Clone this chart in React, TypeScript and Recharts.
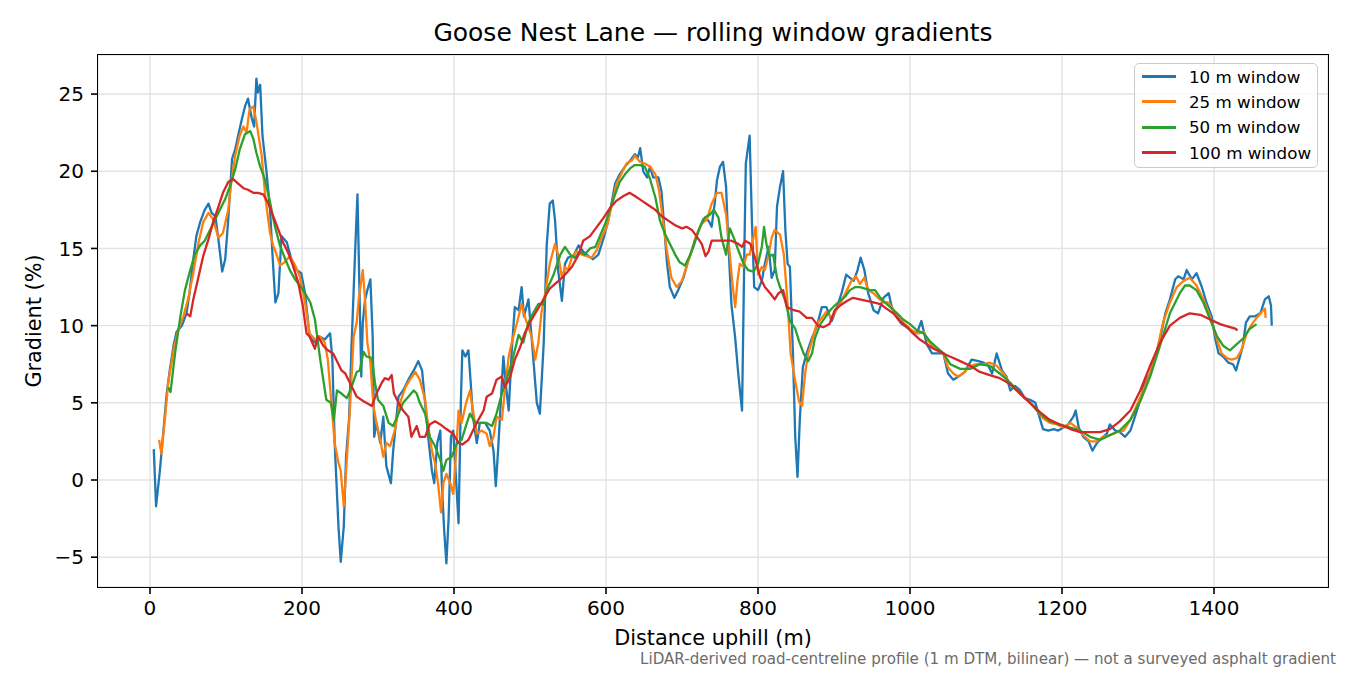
import React from 'react';
import { LineChart, Line, XAxis, YAxis, CartesianGrid } from 'recharts';

// [distance uphill (m), gradient (%)]
const win10: [number, number][] = [
  [5, 2.0], [8, -1.7], [13, 0.6], [22, 5.6], [26, 7.1], [31, 8.7], [35, 9.6], [42, 10.0], [48, 10.8], [52, 12.1],
  [57, 14.3], [61, 15.8], [66, 16.7], [72, 17.5], [77, 17.9], [81, 17.3], [86, 17.1], [90, 15.6], [95, 13.5], [99, 14.3],
  [103, 16.9], [108, 20.8], [112, 21.4], [116, 22.3], [121, 23.4], [125, 24.2], [129, 24.7], [134, 23.4], [137, 22.9], [140, 26.0],
  [142, 25.1], [145, 25.6], [148, 22.3], [153, 20.1], [158, 17.5], [162, 13.9], [165, 11.5], [169, 12.1], [173, 15.8], [180, 15.4],
  [186, 14.3], [193, 13.6], [199, 13.4], [204, 12.1], [210, 9.3], [217, 8.9], [223, 9.3], [230, 9.1], [237, 9.5], [240, 7.8],
  [243, 2.4], [248, -3.0], [251, -5.3], [255, -3.0], [258, 1.5], [262, 4.0], [265, 8.4], [270, 14.9], [273, 18.5], [275, 13.8],
  [278, 6.7], [280, 10.2], [283, 11.7], [286, 12.3], [290, 13.0], [293, 9.3], [295, 2.8], [298, 3.7], [303, 2.4], [307, 4.1],
  [311, 0.9], [317, -0.2], [320, 1.9], [327, 5.4], [333, 5.8], [340, 6.5], [347, 7.1], [353, 7.7], [358, 7.1], [362, 5.0],
  [366, 2.8], [371, 0.6], [374, -0.2], [378, 2.4], [382, 3.2], [384, -0.2], [387, -3.2], [390, -5.4], [393, -2.4], [396, 2.8],
  [399, 3.2], [403, -0.2], [406, -2.8], [409, 5.0], [411, 8.4], [415, 8.0], [419, 8.4], [422, 6.3], [425, 4.1], [430, 2.4],
  [434, 3.7], [441, 3.7], [447, 3.2], [452, 1.9], [455, -0.4], [458, 1.9], [463, 6.3], [465, 8.0], [468, 6.3], [472, 4.5],
  [476, 8.4], [480, 11.2], [485, 11.0], [489, 12.5], [492, 10.6], [498, 11.7], [502, 9.3], [509, 5.0], [513, 4.3], [518, 8.8],
  [522, 15.2], [526, 17.9], [530, 18.1], [533, 16.8], [537, 13.6], [542, 11.6], [546, 14.0], [550, 14.4], [557, 14.5], [564, 15.2],
  [570, 14.8], [577, 14.5], [583, 14.3], [590, 14.6], [597, 15.7], [603, 16.8], [608, 18.1], [612, 19.2], [618, 19.8], [625, 20.3],
  [632, 20.7], [638, 21.1], [642, 20.9], [645, 21.5], [649, 20.0], [654, 19.6], [658, 20.3], [662, 19.6], [669, 19.6], [673, 18.7],
  [676, 16.8], [680, 14.2], [684, 12.5], [690, 11.8], [695, 12.3], [702, 13.1], [708, 14.2], [715, 15.1], [722, 16.2], [728, 16.9],
  [735, 16.8], [739, 16.4], [743, 17.9], [746, 19.4], [750, 20.3], [754, 20.6], [758, 19.0], [761, 15.3], [765, 11.4], [770, 9.2],
  [774, 6.9], [779, 4.5], [782, 14.6], [784, 20.5], [789, 22.3], [792, 16.8], [795, 12.5], [800, 12.3], [805, 12.9], [809, 14.0],
  [814, 15.1], [818, 13.1], [822, 13.6], [825, 17.7], [829, 19.0], [833, 20.0], [836, 16.2], [839, 14.0], [842, 13.8], [846, 8.2],
  [849, 2.8], [852, 0.2], [855, 3.9], [859, 7.3], [864, 8.2], [871, 9.2], [877, 9.9], [884, 11.2], [890, 11.2], [897, 10.3],
  [904, 11.2], [910, 12.1], [916, 13.3], [921, 13.1], [926, 12.9], [931, 13.6], [935, 14.4], [940, 13.6], [945, 12.1], [952, 11.0],
  [958, 10.8], [965, 11.8], [972, 12.1], [976, 11.2], [983, 10.5], [989, 10.1], [996, 9.9], [1002, 9.7], [1009, 9.5], [1015, 10.3],
  [1022, 8.8], [1029, 8.2], [1035, 8.2], [1044, 8.2], [1050, 6.9], [1057, 6.5], [1064, 6.7], [1072, 7.0], [1081, 7.8], [1090, 7.7],
  [1097, 7.6], [1103, 7.4], [1108, 6.9], [1114, 8.2], [1121, 7.1], [1127, 6.7], [1132, 5.8], [1138, 6.1], [1145, 5.8], [1151, 5.3],
  [1158, 5.2], [1165, 5.0], [1169, 4.3], [1175, 3.3], [1182, 3.2], [1189, 3.3], [1195, 3.2], [1202, 3.4], [1208, 3.6], [1215, 4.1],
  [1218, 4.5], [1222, 3.4], [1228, 2.8], [1235, 2.5], [1240, 1.9], [1246, 2.4], [1252, 2.7], [1259, 3.0], [1263, 3.6], [1270, 3.2],
  [1276, 3.1], [1283, 2.8], [1290, 3.2], [1296, 4.1], [1303, 5.2], [1309, 6.3], [1316, 6.9], [1322, 7.8], [1329, 9.1], [1336, 10.8],
  [1342, 11.7], [1349, 13.0], [1353, 13.2], [1360, 13.0], [1364, 13.6], [1371, 13.0], [1377, 13.4], [1384, 12.5], [1390, 11.5], [1397, 10.6],
  [1401, 9.3], [1406, 8.2], [1412, 8.0], [1419, 7.6], [1425, 7.5], [1429, 7.1], [1433, 7.8], [1438, 8.7], [1442, 10.2], [1447, 10.6],
  [1454, 10.6], [1461, 10.8], [1467, 11.7], [1472, 11.9], [1475, 11.3], [1476, 10.0],
];

const win25: [number, number][] = [
  [12, 2.6], [15, 1.7], [20, 4.1], [24, 6.3], [31, 8.4], [37, 9.7], [44, 10.6], [50, 11.7], [57, 13.4], [64, 15.4],
  [70, 16.7], [77, 17.3], [83, 16.9], [90, 15.7], [96, 16.0], [103, 17.5], [107, 19.3], [112, 21.0], [118, 22.3], [123, 22.9],
  [127, 22.5], [131, 24.0], [136, 24.2], [140, 23.2], [147, 21.0], [152, 18.2], [158, 16.0], [162, 15.2], [166, 14.7], [171, 13.9],
  [177, 14.1], [184, 14.5], [191, 13.9], [197, 13.2], [204, 11.5], [210, 9.5], [217, 9.1], [223, 9.3], [230, 8.9], [234, 7.8],
  [239, 4.8], [243, 2.4], [248, 1.1], [251, 0.6], [255, -1.7], [259, 1.3], [263, 4.5], [268, 9.3], [272, 10.2], [275, 11.9],
  [280, 13.6], [283, 11.7], [286, 8.9], [290, 7.6], [294, 4.8], [298, 3.7], [303, 2.6], [307, 1.5], [311, 2.4], [316, 2.2],
  [322, 3.2], [329, 5.0], [336, 6.0], [342, 6.5], [349, 7.0], [355, 6.5], [362, 5.2], [366, 3.5], [371, 1.9], [375, 1.1],
  [379, -0.2], [383, -2.1], [386, -0.2], [390, 0.4], [395, -0.2], [399, -0.9], [403, 1.9], [406, 4.5], [410, 3.7], [416, 5.0],
  [421, 5.8], [425, 4.5], [430, 3.0], [436, 3.2], [443, 3.0], [447, 2.2], [452, 2.8], [456, 4.1], [463, 3.9], [467, 5.8],
  [472, 8.0], [476, 8.9], [483, 10.2], [489, 11.4], [493, 10.6], [498, 9.9], [502, 9.3], [507, 7.8], [511, 8.9], [515, 10.8],
  [520, 12.1], [526, 14.0], [533, 15.3], [537, 14.6], [542, 13.1], [546, 13.8], [550, 13.6], [555, 14.4], [561, 14.8], [568, 14.6],
  [575, 14.5], [581, 14.4], [588, 14.9], [594, 15.7], [601, 16.4], [608, 17.9], [614, 19.2], [621, 19.9], [627, 20.5], [634, 20.7],
  [638, 21.0], [645, 20.6], [651, 20.5], [658, 20.3], [665, 19.8], [670, 18.7], [675, 16.8], [680, 14.9], [686, 13.1], [693, 12.5],
  [700, 12.9], [706, 13.8], [713, 14.9], [719, 15.9], [726, 16.6], [733, 16.9], [739, 17.9], [746, 18.6], [752, 18.6], [758, 17.2],
  [762, 15.1], [766, 12.9], [770, 11.2], [773, 12.9], [776, 14.0], [781, 13.8], [785, 14.6], [789, 14.6], [794, 15.7], [797, 16.4],
  [800, 13.3], [805, 13.8], [809, 13.6], [814, 14.6], [818, 15.7], [822, 16.2], [829, 15.9], [834, 14.6], [839, 11.4], [843, 8.2],
  [849, 6.4], [854, 5.1], [858, 4.8], [862, 6.9], [866, 8.2], [871, 9.0], [877, 10.1], [884, 10.5], [890, 10.9], [897, 10.5],
  [904, 11.1], [910, 11.6], [917, 12.3], [923, 12.9], [929, 13.2], [934, 12.7], [940, 13.1], [945, 12.3], [952, 12.1], [958, 11.8],
  [965, 11.5], [972, 11.5], [978, 11.0], [985, 10.5], [991, 10.2], [998, 9.9], [1004, 9.6], [1011, 9.5], [1018, 9.6], [1024, 9.0],
  [1031, 8.6], [1037, 8.4], [1044, 8.2], [1050, 7.3], [1057, 6.9], [1063, 6.7], [1070, 6.9], [1079, 7.4], [1088, 7.5], [1097, 7.5],
  [1105, 7.6], [1114, 7.4], [1123, 6.9], [1132, 6.2], [1140, 5.8], [1149, 5.4], [1158, 5.0], [1167, 4.5], [1175, 4.0], [1184, 3.7],
  [1193, 3.6], [1202, 3.4], [1211, 3.7], [1219, 3.4], [1228, 2.9], [1237, 2.5], [1246, 2.5], [1254, 2.8], [1263, 2.9], [1272, 3.1],
  [1281, 3.2], [1290, 3.9], [1298, 4.8], [1307, 5.8], [1316, 6.9], [1325, 8.4], [1333, 10.2], [1342, 11.5], [1351, 12.5], [1360, 12.9],
  [1368, 13.1], [1377, 12.6], [1386, 11.7], [1395, 10.6], [1404, 9.1], [1410, 8.2], [1417, 7.9], [1423, 7.8], [1430, 7.9], [1436, 8.4],
  [1443, 9.5], [1450, 10.1], [1456, 10.5], [1463, 10.9], [1467, 11.1], [1468, 10.5],
];

const win50: [number, number][] = [
  [24, 6.0], [27, 5.7], [33, 8.2], [40, 10.6], [46, 12.3], [53, 13.6], [59, 14.6], [66, 15.2], [72, 15.5], [79, 16.2],
  [86, 16.9], [92, 17.5], [99, 18.2], [105, 19.0], [112, 20.1], [118, 21.4], [125, 22.4], [132, 22.6], [136, 22.1], [140, 21.2],
  [145, 20.3], [151, 19.5], [158, 18.0], [164, 16.5], [171, 15.2], [178, 14.3], [184, 13.6], [191, 13.0], [197, 12.6], [204, 12.1],
  [211, 11.5], [217, 10.4], [224, 7.8], [228, 6.5], [232, 5.2], [238, 5.0], [242, 3.9], [246, 5.8], [252, 5.6], [259, 5.3],
  [265, 6.0], [272, 7.0], [276, 7.1], [281, 8.3], [285, 8.0], [292, 7.9], [296, 6.3], [300, 5.2], [307, 4.8], [314, 3.7],
  [320, 3.5], [327, 4.3], [333, 5.0], [340, 5.4], [347, 5.8], [351, 5.6], [355, 5.0], [362, 4.3], [368, 2.8], [375, 2.2],
  [382, 1.3], [386, 0.6], [390, 1.3], [397, 1.5], [404, 2.4], [410, 2.6], [417, 3.7], [421, 4.3], [428, 3.7], [434, 3.7],
  [443, 3.7], [450, 3.5], [456, 4.3], [463, 5.6], [469, 6.5], [476, 7.6], [480, 8.4], [485, 9.4], [491, 8.9], [498, 10.2],
  [504, 10.8], [511, 11.4], [518, 11.4], [522, 12.3], [531, 13.3], [540, 14.6], [546, 15.1], [553, 14.6], [559, 14.4], [566, 14.8],
  [572, 14.6], [579, 15.0], [586, 15.1], [592, 15.8], [599, 16.6], [605, 17.5], [612, 18.5], [618, 19.3], [625, 19.8], [632, 20.2],
  [638, 20.4], [645, 20.4], [651, 20.3], [658, 19.5], [665, 18.3], [671, 16.8], [678, 15.9], [684, 15.3], [691, 14.6], [697, 14.1],
  [704, 13.9], [711, 14.6], [717, 15.5], [724, 16.4], [730, 17.0], [737, 17.2], [742, 17.5], [748, 17.0], [752, 15.7], [758, 14.6],
  [763, 16.3], [768, 15.7], [774, 14.9], [781, 14.0], [787, 13.6], [794, 13.5], [800, 14.0], [805, 15.1], [808, 16.4], [811, 15.3],
  [815, 14.5], [820, 14.6], [825, 13.1], [829, 12.5], [836, 11.6], [842, 10.3], [849, 9.8], [854, 9.0], [860, 8.2], [866, 7.7],
  [871, 8.2], [875, 9.2], [882, 10.1], [888, 10.5], [895, 11.0], [901, 11.3], [908, 11.6], [915, 11.9], [921, 12.3], [928, 12.5],
  [934, 12.5], [941, 12.4], [947, 12.3], [954, 12.3], [961, 11.8], [967, 11.5], [974, 11.2], [983, 10.8], [991, 10.4], [1000, 10.1],
  [1009, 9.7], [1018, 9.5], [1026, 9.0], [1035, 8.6], [1044, 8.2], [1053, 7.5], [1066, 7.2], [1079, 7.2], [1092, 7.5], [1105, 7.4],
  [1118, 6.9], [1132, 6.3], [1145, 5.6], [1158, 5.0], [1171, 4.3], [1184, 3.8], [1197, 3.6], [1211, 3.4], [1224, 3.2], [1237, 2.8],
  [1250, 2.6], [1263, 2.9], [1276, 3.2], [1290, 3.9], [1303, 5.1], [1316, 6.7], [1329, 8.7], [1342, 10.8], [1355, 12.1], [1362, 12.6],
  [1368, 12.6], [1377, 12.3], [1386, 11.5], [1395, 10.4], [1404, 9.3], [1412, 8.7], [1421, 8.4], [1430, 8.8], [1439, 9.2], [1447, 9.8],
  [1456, 10.1],
];

const win100: [number, number][] = [
  [48, 10.8], [53, 10.6], [57, 11.7], [64, 13.2], [70, 14.5], [77, 15.6], [83, 16.7], [90, 17.7], [96, 18.6], [103, 19.3],
  [109, 19.5], [116, 19.2], [123, 18.9], [129, 18.8], [136, 18.6], [142, 18.6], [149, 18.5], [155, 18.0], [162, 17.1], [169, 16.2],
  [175, 15.4], [182, 14.7], [188, 13.9], [195, 12.8], [201, 11.3], [206, 9.5], [210, 9.3], [217, 8.5], [221, 9.3], [228, 8.7],
  [234, 8.4], [241, 8.2], [248, 7.5], [252, 7.1], [257, 6.9], [263, 6.3], [272, 5.4], [281, 5.1], [292, 4.8], [298, 5.6],
  [305, 6.3], [309, 6.6], [314, 6.5], [318, 6.8], [321, 5.6], [327, 5.0], [333, 4.5], [340, 4.1], [344, 2.8], [351, 3.5],
  [355, 2.8], [362, 2.8], [368, 3.6], [375, 3.8], [382, 3.6], [390, 3.3], [399, 3.0], [406, 2.4], [411, 2.3], [419, 2.6],
  [425, 3.2], [432, 3.9], [439, 4.5], [443, 5.4], [450, 5.6], [456, 6.5], [463, 6.7], [467, 6.0], [474, 6.7], [480, 7.8],
  [487, 8.6], [493, 9.5], [500, 10.2], [507, 10.8], [513, 11.3], [520, 11.9], [526, 12.4], [533, 12.7], [540, 13.0], [546, 13.3],
  [555, 13.8], [564, 14.6], [570, 15.5], [579, 15.8], [588, 16.4], [597, 17.0], [605, 17.6], [614, 18.1], [623, 18.4], [631, 18.6],
  [638, 18.4], [647, 18.1], [656, 17.8], [665, 17.5], [673, 17.1], [682, 16.8], [691, 16.5], [700, 16.3], [706, 16.4], [713, 16.2],
  [719, 15.8], [726, 15.3], [731, 14.5], [735, 14.8], [739, 15.5], [748, 15.5], [757, 15.5], [765, 15.5], [774, 15.3], [779, 15.1],
  [783, 15.5], [790, 15.3], [796, 14.4], [803, 13.1], [809, 12.5], [816, 12.1], [822, 11.7], [827, 12.1], [833, 12.3], [838, 11.2],
  [847, 11.0], [855, 10.9], [864, 10.5], [871, 10.5], [879, 10.0], [886, 9.9], [894, 10.1], [901, 11.0], [908, 11.3], [917, 11.6],
  [925, 11.8], [934, 11.7], [943, 11.6], [952, 11.5], [961, 11.4], [969, 11.1], [978, 10.8], [987, 10.3], [996, 9.9], [1004, 9.5],
  [1013, 9.1], [1022, 8.8], [1031, 8.5], [1040, 8.3], [1048, 8.1], [1057, 7.9], [1066, 7.7], [1079, 7.4], [1092, 7.0], [1105, 6.8],
  [1118, 6.6], [1132, 6.2], [1145, 5.6], [1158, 5.0], [1171, 4.4], [1184, 3.9], [1197, 3.6], [1211, 3.3], [1224, 3.1], [1237, 3.1],
  [1250, 3.1], [1263, 3.3], [1276, 3.8], [1290, 4.5], [1303, 5.8], [1316, 7.4], [1329, 8.9], [1342, 10.0], [1355, 10.5], [1368, 10.8],
  [1382, 10.7], [1395, 10.4], [1408, 10.1], [1421, 9.9], [1428, 9.8], [1431, 9.7],
];

const xTicks = [0, 200, 400, 600, 800, 1000, 1200, 1400];
const yTicks = [-5, 0, 5, 10, 15, 20, 25];

const series = [
  { name: '10 m window', color: '#1f77b4', points: win10 },
  { name: '25 m window', color: '#ff7f0e', points: win25 },
  { name: '50 m window', color: '#2ca02c', points: win50 },
  { name: '100 m window', color: '#d62728', points: win100 },
];

const FONT = '"DejaVu Sans", sans-serif';
const tickStyle = { fontSize: 20, fill: '#000', fontFamily: FONT };
const minus = (v: number) => (v < 0 ? `\u2212${Math.abs(v)}` : `${v}`);

export default function App() {
  return (
    <div style={{ position: 'absolute', left: 0, top: 0, width: 1350, height: 675, background: '#fff', fontFamily: FONT }}>
      <LineChart width={1350} height={675} margin={{ top: 55, right: 22, bottom: 48, left: 0 }}>
        <CartesianGrid stroke="#e3e3e3" strokeWidth={1.4} />
        <XAxis
          type="number"
          dataKey="d"
          domain={[-68.4, 1550]}
          allowDataOverflow
          ticks={xTicks}
          height={40}
          tickSize={7}
          tickMargin={7}
          axisLine={false}
          tickLine={{ stroke: '#000', strokeWidth: 1.6 }}
          tick={tickStyle}
        />
        <YAxis
          type="number"
          domain={[-6.93, 27.53]}
          allowDataOverflow
          ticks={yTicks}
          width={98}
          tickSize={7}
          tickMargin={7}
          axisLine={false}
          tickLine={{ stroke: '#000', strokeWidth: 1.6 }}
          tick={tickStyle}
          tickFormatter={minus}
        />
        {series.map((s) => (
          <Line
            key={s.name}
            data={s.points.map(([d, g]) => ({ d, g }))}
            dataKey="g"
            type="linear"
            stroke={s.color}
            strokeWidth={2.3}
            strokeLinejoin="round"
            dot={false}
            activeDot={false}
            isAnimationActive={false}
          />
        ))}
      </LineChart>

      {/* axes frame */}
      <div style={{ position: 'absolute', left: 97, top: 54, width: 1230, height: 532, border: '1.6px solid #000', boxSizing: 'content-box', pointerEvents: 'none' }} />

      {/* legend */}
      <div
        style={{
          position: 'absolute', left: 1134, top: 63, width: 184, height: 105, boxSizing: 'border-box',
          border: '1.4px solid #cccccc', borderRadius: 5, background: 'rgba(255,255,255,0.8)', padding: '0 0 0 7px',
        }}
      >
        {series.map((s) => (
          <div key={s.name} style={{ display: 'flex', alignItems: 'center', height: 25.3 }}>
            <div style={{ width: 34, height: 3, background: s.color, marginRight: 13 }} />
            <span style={{ fontSize: 16.7, color: '#000', whiteSpace: 'nowrap' }}>{s.name}</span>
          </div>
        ))}
      </div>

      <svg width={1350} height={675} style={{ position: 'absolute', left: 0, top: 0, pointerEvents: 'none' }} fontFamily={FONT}>
        <text x={713} y={41} textAnchor="middle" fontSize={25} fill="#000">Goose Nest Lane — rolling window gradients</text>
        <text x={713} y={645} textAnchor="middle" fontSize={20.8} fill="#000">Distance uphill (m)</text>
        <text transform="translate(41 321) rotate(-90)" textAnchor="middle" fontSize={20.8} fill="#000">Gradient (%)</text>
        <text x={1336} y={664} textAnchor="end" fontSize={15.1} fill="#6b6b6b">
          LiDAR-derived road-centreline profile (1 m DTM, bilinear) — not a surveyed asphalt gradient
        </text>
      </svg>
    </div>
  );
}
